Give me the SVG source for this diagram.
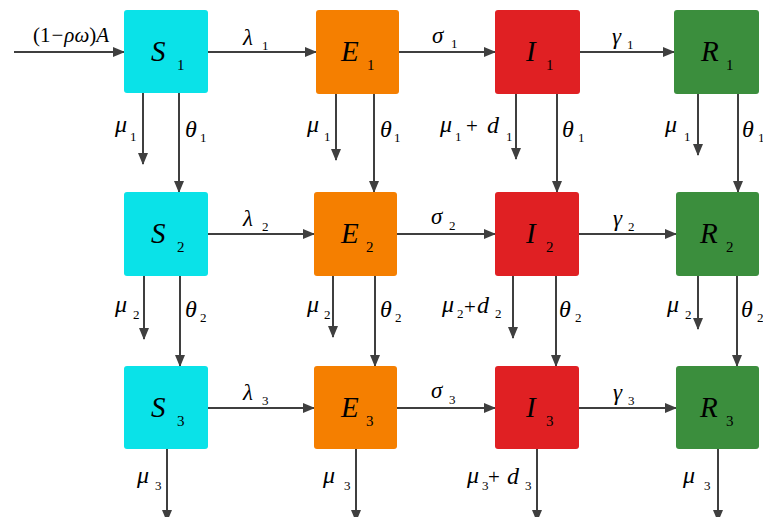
<svg xmlns="http://www.w3.org/2000/svg" width="763" height="517" viewBox="0 0 763 517">
<defs>
<style>
.box{stroke:none}
.s{fill:#0ae2e8}.e{fill:#f57f00}.i{fill:#e02023}.r{fill:#3b8e3d}
.bl{font-family:"Liberation Serif","Times New Roman",serif;font-style:italic;font-size:29px;fill:#000}
.bs{font-family:"Liberation Serif","Times New Roman",serif;font-size:15px;fill:#000}
.lb{font-family:"Liberation Serif","Times New Roman",serif;font-style:italic;font-size:23px;fill:#000}
.lv{font-family:"Liberation Serif","Times New Roman",serif;font-style:italic;font-size:24px;fill:#000}
.ls{font-family:"Liberation Serif","Times New Roman",serif;font-size:13px;fill:#000}
.lp{font-family:"Liberation Serif","Times New Roman",serif;font-size:21px;fill:#000}
.c line{stroke:#3f3f3f;stroke-width:2;marker-end:url(#ah)}
</style>
<marker id="ah" markerWidth="12" markerHeight="10" refX="11" refY="5" orient="auto" markerUnits="userSpaceOnUse"><path d="M0,0 L12,5 L0,10 z" fill="#3f3f3f"/></marker>
</defs>
<rect width="763" height="517" fill="#fff"/>

<g class="c" id="connectors">
<line x1="14" y1="52" x2="124" y2="52"/>
<line x1="208" y1="52" x2="316" y2="52"/>
<line x1="399" y1="52" x2="495" y2="52"/>
<line x1="580" y1="52" x2="674" y2="52"/>
<line x1="208" y1="234" x2="314" y2="234"/>
<line x1="397" y1="234" x2="495" y2="234"/>
<line x1="579" y1="234" x2="676" y2="234"/>
<line x1="208" y1="408" x2="314" y2="408"/>
<line x1="397" y1="408" x2="495" y2="408"/>
<line x1="579" y1="408" x2="676" y2="408"/>
<line x1="143" y1="93" x2="143" y2="164"/>
<line x1="179" y1="93" x2="179" y2="192"/>
<line x1="336" y1="94" x2="336" y2="160"/>
<line x1="374" y1="94" x2="374" y2="192"/>
<line x1="516" y1="94" x2="516" y2="159"/>
<line x1="557" y1="94" x2="557" y2="192"/>
<line x1="698" y1="94" x2="698" y2="155"/>
<line x1="738" y1="94" x2="738" y2="192"/>
<line x1="144" y1="276" x2="144" y2="339"/>
<line x1="180" y1="276" x2="180" y2="366"/>
<line x1="333" y1="276" x2="333" y2="337"/>
<line x1="375" y1="276" x2="375" y2="366"/>
<line x1="513" y1="276" x2="513" y2="338"/>
<line x1="556" y1="276" x2="556" y2="366"/>
<line x1="698" y1="276" x2="698" y2="329"/>
<line x1="737" y1="276" x2="737" y2="366"/>
<line x1="167" y1="449" x2="167" y2="521"/>
<line x1="356" y1="449" x2="356" y2="521"/>
<line x1="537" y1="449" x2="537" y2="521"/>
<line x1="718" y1="449" x2="718" y2="521"/>
</g>

<g id="labels">
<text class="lp" x="33" y="42">(1<tspan dx="1">−</tspan><tspan class="lb" dx="1" style="font-size:21px">ρω</tspan>)<tspan class="lb" style="font-size:21px">A</tspan></text>
<text class="lb" x="243" y="45">λ</text><text class="ls" x="262" y="50">1</text>
<text class="lb" x="432" y="43">σ</text><text class="ls" x="451" y="48">1</text>
<text class="lb" x="612" y="44">γ</text><text class="ls" x="627" y="49">1</text>
<text class="lb" x="243" y="226">λ</text><text class="ls" x="262" y="231">2</text>
<text class="lb" x="431" y="224">σ</text><text class="ls" x="449" y="230">2</text>
<text class="lb" x="613" y="226">γ</text><text class="ls" x="628" y="231">2</text>
<text class="lb" x="243" y="400">λ</text><text class="ls" x="262" y="405">3</text>
<text class="lb" x="431" y="398">σ</text><text class="ls" x="449" y="404">3</text>
<text class="lb" x="613" y="400">γ</text><text class="ls" x="628" y="405">3</text>

<text class="lv" x="115" y="132">μ</text><text class="ls" x="130" y="141">1</text>
<text class="lv" x="185" y="137">θ</text><text class="ls" x="200" y="142">1</text>
<text class="lv" x="307" y="132">μ</text><text class="ls" x="324" y="141">1</text>
<text class="lv" x="380" y="137">θ</text><text class="ls" x="394" y="142">1</text>
<text class="lv" x="440" y="132">μ</text><text class="ls" x="455" y="141">1</text>
<text class="lp" x="466" y="133">+</text>
<text class="lv" x="487" y="133">d</text><text class="ls" x="506" y="141">1</text>
<text class="lv" x="562" y="137">θ</text><text class="ls" x="578" y="142">1</text>
<text class="lv" x="665" y="132">μ</text><text class="ls" x="684" y="141">1</text>
<text class="lv" x="742" y="137">θ</text><text class="ls" x="758" y="142">1</text>

<text class="lv" x="115" y="312">μ</text><text class="ls" x="133" y="319">2</text>
<text class="lv" x="185" y="317">θ</text><text class="ls" x="200" y="322">2</text>
<text class="lv" x="307" y="312">μ</text><text class="ls" x="324" y="319">2</text>
<text class="lv" x="380" y="317">θ</text><text class="ls" x="395" y="322">2</text>
<text class="lv" x="442" y="312">μ</text><text class="ls" x="457" y="318">2</text>
<text class="lp" x="464" y="314">+</text>
<text class="lv" x="477" y="313">d</text><text class="ls" x="495" y="318">2</text>
<text class="lv" x="559" y="317">θ</text><text class="ls" x="575" y="322">2</text>
<text class="lv" x="667" y="312">μ</text><text class="ls" x="685" y="319">2</text>
<text class="lv" x="741" y="317">θ</text><text class="ls" x="757" y="322">2</text>

<text class="lv" x="137" y="483">μ</text><text class="ls" x="155" y="490">3</text>
<text class="lv" x="323" y="483">μ</text><text class="ls" x="344" y="490">3</text>
<text class="lv" x="467" y="483">μ</text><text class="ls" x="482" y="490">3</text>
<text class="lp" x="488" y="484">+</text>
<text class="lv" x="507" y="484">d</text><text class="ls" x="525" y="490">3</text>
<text class="lv" x="683" y="483">μ</text><text class="ls" x="704" y="490">3</text>
</g>

<g id="S1"><rect class="box s" x="124" y="10" width="84" height="83" rx="3"/><text class="bl" x="151" y="61">S</text><text class="bs" x="177" y="70">1</text></g>
<g id="E1"><rect class="box e" x="316" y="10" width="83" height="84" rx="3"/><text class="bl" x="341" y="61">E</text><text class="bs" x="367" y="70">1</text></g>
<g id="I1"><rect class="box i" x="495" y="10" width="85" height="84" rx="3"/><text class="bl" x="526" y="61">I</text><text class="bs" x="546" y="70">1</text></g>
<g id="R1"><rect class="box r" x="674" y="10" width="85" height="84" rx="3"/><text class="bl" x="701" y="61">R</text><text class="bs" x="726" y="70">1</text></g>

<g id="S2"><rect class="box s" x="124" y="192" width="84" height="84" rx="3"/><text class="bl" x="151" y="243">S</text><text class="bs" x="177" y="252">2</text></g>
<g id="E2"><rect class="box e" x="314" y="192" width="83" height="84" rx="3"/><text class="bl" x="341" y="243">E</text><text class="bs" x="366" y="252">2</text></g>
<g id="I2"><rect class="box i" x="495" y="192" width="84" height="84" rx="3"/><text class="bl" x="526" y="243">I</text><text class="bs" x="546" y="252">2</text></g>
<g id="R2"><rect class="box r" x="676" y="192" width="83" height="84" rx="3"/><text class="bl" x="700" y="243">R</text><text class="bs" x="726" y="252">2</text></g>

<g id="S3"><rect class="box s" x="124" y="366" width="84" height="83" rx="3"/><text class="bl" x="151" y="417">S</text><text class="bs" x="177" y="426">3</text></g>
<g id="E3"><rect class="box e" x="314" y="366" width="83" height="83" rx="3"/><text class="bl" x="341" y="417">E</text><text class="bs" x="366" y="426">3</text></g>
<g id="I3"><rect class="box i" x="495" y="366" width="84" height="83" rx="3"/><text class="bl" x="526" y="417">I</text><text class="bs" x="546" y="426">3</text></g>
<g id="R3"><rect class="box r" x="676" y="366" width="83" height="83" rx="3"/><text class="bl" x="700" y="417">R</text><text class="bs" x="726" y="426">3</text></g>
</svg>
